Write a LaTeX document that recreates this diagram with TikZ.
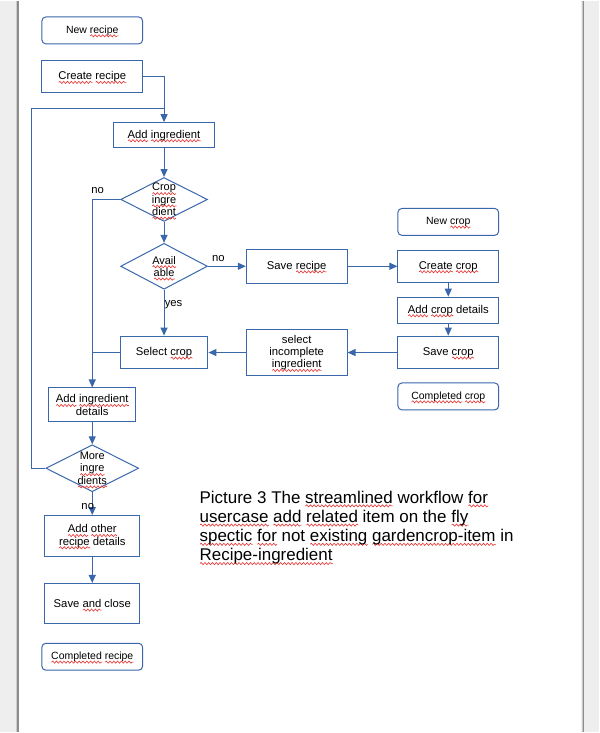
\documentclass[tikz,border=0pt]{standalone}
\usepackage{fontspec}
\setmainfont{Liberation Sans}
\usetikzlibrary{shapes.geometric,arrows.meta,decorations.pathmorphing}
\definecolor{flow}{HTML}{3A67AB}
\definecolor{desk}{HTML}{EEEEEE}
\definecolor{pageedge}{HTML}{8C8C8C}
\definecolor{spell}{HTML}{E8312F}
\newsavebox\chkbox
\newcommand\chk[1]{\sbox\chkbox{#1}\leavevmode\rlap{\raisebox{0pt}[0pt][0pt]{\tikz[baseline=0pt]
    \draw[spell, sharp corners, solid, line width=0.6pt, decorate, decoration={snake, amplitude=1.1pt, segment length=3.8pt}]
      (0pt,-2.7pt) -- (\the\wd\chkbox,-2.7pt);}}\usebox\chkbox}
\tikzset{
  box/.style={draw=flow, line width=1pt, inner sep=0pt, align=center, font=\fontsize{11.3}{12.3}\selectfont},
  terminal/.style={box, rounded corners=4pt, minimum width=101pt, minimum height=27pt, font=\fontsize{10.5}{12}\selectfont},
  question/.style={diamond, draw=flow, line width=1pt, inner sep=0pt},
  qtext/.style={align=center, font=\fontsize{11}{12.3}\selectfont},
  link/.style={draw=flow, line width=1.1pt},
  tag/.style={font=\fontsize{11.3}{12.3}\selectfont, inner sep=0pt},
  caption/.style={anchor=north west, align=left, inner sep=0pt, font=\fontsize{17}{19.3}\selectfont}
}
\begin{document}
\begin{tikzpicture}[x=1pt, y=-1pt, >={Triangle[length=8pt,width=7pt]}]
    % page
    \fill[desk] (0,0) rectangle (601,733);
    \fill[white] (19,0) rectangle (583,733);
    \draw[pageedge, line width=2pt] (18,0) -- (18,733);
    \draw[pageedge, line width=2pt] (585,0) -- (585,733);
    \draw[gray!40] (16.5,0) -- (16.5,733);
    \draw[gray!40] (583.5,0) -- (583.5,733);

    % recipe column
    \node[terminal] (newrec) at (92.5,29.5) {New \chk{recipe}};
    \node[box, minimum width=101pt, minimum height=32pt] (crerec) at (92.5,76) {\chk{Create} \chk{recipe}};
    \node[box, minimum width=101pt, minimum height=25pt] (addingr) at (164.5,134.5) {\chk{Add} \chk{ingredient}};
    \node[question, minimum width=87pt, minimum height=44pt,
          label={[qtext]center:\chk{Crop}\\\chk{ingre}\\\chk{dient}}] (cropq) at (164.5,199) {};
    \node[question, minimum width=87pt, minimum height=46pt,
          label={[qtext]center:\chk{Avail}\\\chk{able}}] (availq) at (164.5,266) {};
    \node[box, minimum width=101pt, minimum height=34pt] (saverec) at (297.5,266) {Save \chk{recipe}};
    \node[box, minimum width=101pt, minimum height=47pt] (selinc) at (297.5,352.5) {select\\incomplete\\\chk{ingredient}};
    \node[box, minimum width=88pt, minimum height=33pt] (selcrop) at (164.5,352.5) {Select \chk{crop}};
    \node[box, minimum width=87pt, minimum height=34pt] (addidet) at (92.5,405) {\chk{Add} \chk{ingredient}\\details};
    \node[question, minimum width=93pt, minimum height=47pt,
          label={[qtext]center:More\\\chk{ingre}\\\chk{dients}}] (moreq) at (92.5,468.5) {};
    \node[box, minimum width=95pt, minimum height=41pt] (addother) at (92.5,536.5) {\chk{Add} \chk{other}\\\chk{recipe} details};
    \node[box, minimum width=95pt, minimum height=40pt] (saveclose) at (92.5,604) {Save \chk{and} close};
    \node[terminal] (donerec) at (92.5,657.5) {\chk{Completed} \chk{recipe}};

    % crop column
    \node[terminal] (newcrop) at (449.5,221.5) {New \chk{crop}};
    \node[box, minimum width=101pt, minimum height=32pt] (crecrop) at (449.5,266) {\chk{Create} \chk{crop}};
    \node[box, minimum width=101pt, minimum height=26pt] (addcdet) at (449.5,310) {\chk{Add} \chk{crop} details};
    \node[box, minimum width=101pt, minimum height=33pt] (savecrop) at (449.5,352.5) {Save \chk{crop}};
    \node[terminal] (donecrop) at (449.5,396.5) {\chk{Completed} \chk{crop}};

    % connectors
    \coordinate (loopl) at (32,108);
    \coordinate (loopr) at (164.5,108);
    \draw[link,->] (crerec.east) -| (addingr.north);
    \draw[link] (moreq.west) -| (loopl) -- (loopr);
    \draw[link,->] (addingr) -- (cropq);
    \draw[link,->] (cropq.west) -| (addidet.north);
    \draw[link,->] (cropq) -- (availq);
    \draw[link,->] (availq) -- (saverec);
    \draw[link,->] (availq) -- (selcrop);
    \draw[link,->] (saverec) -- (crecrop);
    \draw[link,->] (crecrop) -- (addcdet);
    \draw[link,->] (addcdet) -- (savecrop);
    \draw[link,->] (savecrop) -- (selinc);
    \draw[link,->] (selinc) -- (selcrop);
    \draw[link] (selcrop.west) -- (selcrop.west -| addidet.north);
    \draw[link,->] (addidet) -- (moreq);
    \draw[link,->] (moreq) -- (addother);
    \draw[link,->] (addother) -- (saveclose);

    % answers
    \node[tag] (nocrop) at (98,190.5) {no};
    \node[tag] (noavail) at (219,258) {no};
    \node[tag] (yesavail) at (174,304.5) {yes};
    \node[tag] (nomore) at (88,507) {no};

    \node[caption] (cap) at (200,491) {Picture 3 The \chk{streamlined} workflow \chk{for}\\
        \chk{usercase} \chk{add} \chk{related} item on the \chk{fly}\\
        \chk{spectic} \chk{for} not \chk{existing} \chk{gardencrop-item} in\\
        \chk{Recipe-ingredient}};
\end{tikzpicture}
\end{document}
